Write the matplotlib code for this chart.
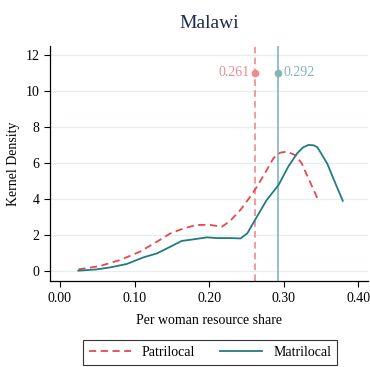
import matplotlib
matplotlib.use("Agg")
import matplotlib.pyplot as plt

plt.rcParams['font.family'] = ['Liberation Serif', 'DejaVu Serif']

patri_x = [0.0246, 0.0537, 0.0805, 0.107, 0.13, 0.148, 0.166, 0.183, 0.201, 0.217,
           0.228, 0.242, 0.255, 0.264, 0.277, 0.286, 0.295, 0.304, 0.315, 0.324, 0.336, 0.347]
patri_y = [0.09, 0.28, 0.61, 1.07, 1.63, 2.09, 2.37, 2.56, 2.56, 2.46,
           2.78, 3.4, 4.13, 4.68, 5.6, 6.26, 6.57, 6.63, 6.44, 5.98, 4.87, 3.85]

matri_x = [0.0246, 0.049, 0.067, 0.0895, 0.112, 0.13, 0.148, 0.163, 0.179, 0.197,
           0.21, 0.228, 0.242, 0.251, 0.264, 0.277, 0.293, 0.306, 0.318, 0.326, 0.333,
           0.34, 0.345, 0.358, 0.371, 0.379]
matri_y = [0.02, 0.09, 0.2, 0.39, 0.76, 0.98, 1.35, 1.67, 1.76, 1.87,
           1.83, 1.83, 1.81, 2.09, 3.02, 3.94, 4.78, 5.8, 6.54, 6.87, 7.0,
           6.98, 6.87, 5.98, 4.68, 3.9]

patri_mean = 0.261
matri_mean = 0.292
marker_y = 11

x_ticks = [0.0, 0.1, 0.2, 0.3, 0.4]
y_ticks = [0, 2, 4, 6, 8, 10, 12]

red = '#e8474f'
teal = '#227b7f'
red_light = '#f08a8c'
teal_light = '#82b6b9'

fig = plt.figure(figsize=(3.7, 3.67), dpi=100)
ax = fig.add_axes([0.135, 0.234, 0.86, 0.641])

for t in y_ticks:
    ax.axhline(t, color='#e6efee', lw=0.9, zorder=0)

ax.plot(patri_x, patri_y, color=red, lw=1.3, ls=(0, (4, 2.5)), label='Patrilocal', zorder=3)
ax.plot(matri_x, matri_y, color=teal, lw=1.3, label='Matrilocal', zorder=3)

ax.axvline(patri_mean, color=red_light, lw=1.2, ls=(0, (4, 2.5)), zorder=2)
ax.axvline(matri_mean, color=teal_light, lw=1.2, zorder=2)
ax.plot([patri_mean], [marker_y], 'o', color=red_light, ms=4.5, zorder=4)
ax.plot([matri_mean], [marker_y], 'o', color=teal_light, ms=4.5, zorder=4)
ax.annotate(f'{patri_mean:.3f}', (patri_mean, marker_y), xytext=(-4, 0), textcoords='offset points',
            ha='right', va='center', color=red_light, fontsize=10)
ax.annotate(f'{matri_mean:.3f}', (matri_mean, marker_y), xytext=(4, 0), textcoords='offset points',
            ha='left', va='center', color=teal_light, fontsize=10)

ax.set_xlim(-0.0134, 0.413)
ax.set_ylim(-0.56, 12.5)
ax.set_xticks(x_ticks)
ax.set_xticklabels([f'{v:.2f}' for v in x_ticks])
ax.set_yticks(y_ticks)
ax.tick_params(direction='out', length=4, width=0.8, labelsize=10, colors='black')
for s in ['top', 'right']:
    ax.spines[s].set_visible(False)
for s in ['left', 'bottom']:
    ax.spines[s].set_linewidth(0.9)

ax.set_xlabel('Per woman resource share', fontsize=10, labelpad=7)
ax.set_ylabel('Kernel Density', fontsize=10, labelpad=4)
ax.set_title('Malawi', fontsize=14, color='#1f2d50', pad=13)

leg = fig.legend(loc='upper center', bbox_to_anchor=(0.568, 0.093), ncol=2, fontsize=10,
                 frameon=True, fancybox=False, edgecolor='black', handlelength=3.0,
                 columnspacing=1.8, borderpad=0.45)
leg.get_frame().set_linewidth(0.8)

fig.savefig('out.png', dpi=100)
